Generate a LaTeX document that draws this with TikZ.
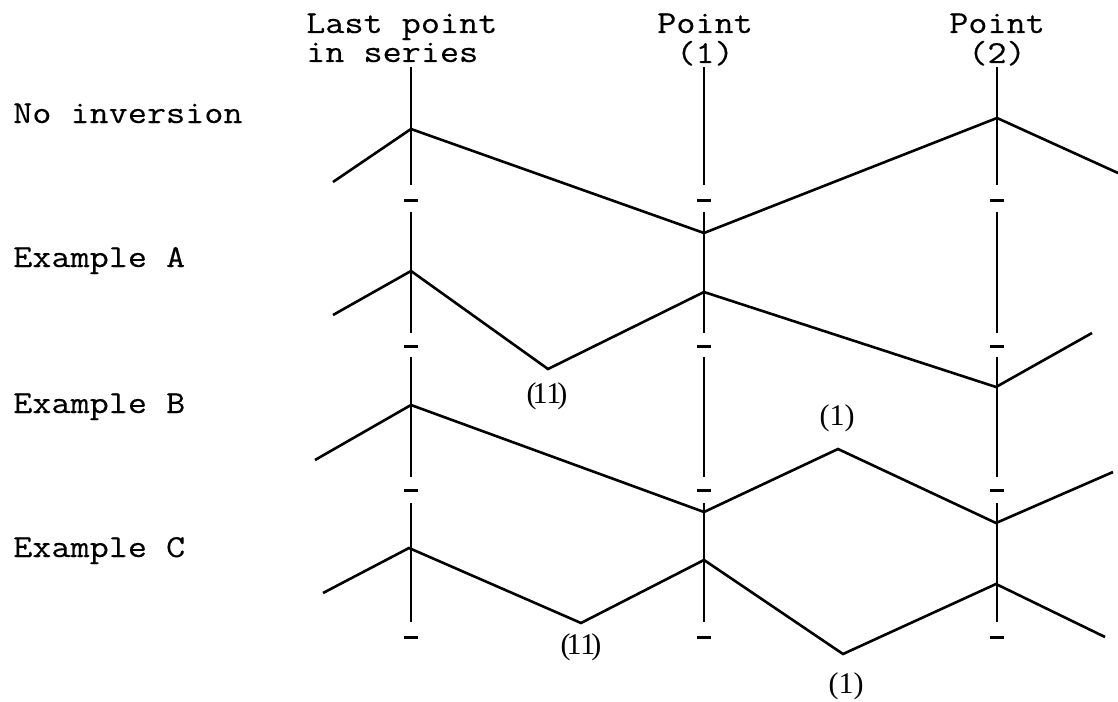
\documentclass[tikz,border=0pt]{standalone}
\usepackage{fontspec}
\setmainfont{Liberation Serif}
\newfontfamily\mono{Latin Modern Mono}[FakeStretch=1.16, FakeBold=0.3]
\begin{document}
\begin{tikzpicture}[x=1pt,y=-1pt,
  zig/.style={line width=2.6pt, line join=miter},
  vline/.style={line width=1.4pt},
  tick/.style={line width=3pt},
  lbl/.style={font=\mono\fontsize{32}{29}\selectfont, inner sep=0pt, anchor=base west},
  hdr/.style={font=\mono\fontsize{32}{29}\selectfont, inner sep=0pt, anchor=base},
  num/.style={font=\fontsize{30}{30}\selectfont, inner sep=0pt}]
\useasboundingbox (0,0) rectangle (1118,701);

% row labels
\node[lbl] (t0) at (13,123) {No inversion};
\node[lbl] (tA) at (13,267) {Example A};
\node[lbl] (tB) at (13,413) {Example B};
\node[lbl] (tC) at (13,557) {Example C};

% column headers
\node[lbl] (hL1) at (306,33) {Last point};
\node[lbl] (hL2) at (306,62) {in series};
\node[hdr] (hP1a) at (705,33) {Point};
\node[hdr] (hP1b) at (705,63) {(1)};
\node[hdr] (hP2a) at (997,33) {Point};
\node[hdr] (hP2b) at (997,63) {(2)};

% vertical guide lines with gaps and tick marks
\foreach \x/\n in {411/L,704/P,997/Q}{
  \coordinate (\n a1) at (\x,67);  \coordinate (\n a2) at (\x,185);
  \coordinate (\n b1) at (\x,212); \coordinate (\n b2) at (\x,333);
  \coordinate (\n c1) at (\x,357); \coordinate (\n c2) at (\x,477);
  \coordinate (\n d1) at (\x,503); \coordinate (\n d2) at (\x,622);
  \draw[vline] (\n a1) -- (\n a2);
  \draw[vline] (\n b1) -- (\n b2);
  \draw[vline] (\n c1) -- (\n c2);
  \draw[vline] (\n d1) -- (\n d2);
  \foreach \y/\m in {200/1,346/2,490/3,637/4}{
    \coordinate (\n t\m l) at (\x-7,\y);
    \coordinate (\n t\m r) at (\x+7,\y);
    \draw[tick] (\n t\m l) -- (\n t\m r);
  }
}

% No inversion
\coordinate (n1) at (333,182);
\coordinate (n2) at (411,129);
\coordinate (n3) at (704,233);
\coordinate (n4) at (997,118);
\coordinate (n5) at (1118,173);
\draw[zig] (n1) -- (n2) -- (n3) -- (n4) -- (n5);

% Example A
\coordinate (a1) at (333,315);
\coordinate (a2) at (411,271);
\coordinate (a3) at (548,369);
\coordinate (a4) at (704,292);
\coordinate (a5) at (996,387);
\coordinate (a6) at (1092,333);
\draw[zig] (a1) -- (a2) -- (a3) -- (a4) -- (a5) -- (a6);

% Example B
\coordinate (b1) at (315,460);
\coordinate (b2) at (411,405);
\coordinate (b3) at (704,512);
\coordinate (b4) at (838,449);
\coordinate (b5) at (996,523);
\coordinate (b6) at (1113,472);
\draw[zig] (b1) -- (b2) -- (b3) -- (b4) -- (b5) -- (b6);

% Example C
\coordinate (c1) at (323,593);
\coordinate (c2) at (409,548);
\coordinate (c3) at (581,623);
\coordinate (c4) at (704,560);
\coordinate (c5) at (843,654);
\coordinate (c6) at (996,584);
\coordinate (c7) at (1105,637);
\draw[zig] (c1) -- (c2) -- (c3) -- (c4) -- (c5) -- (c6) -- (c7);

% point labels
\node[num] (kA) at (547,396) {(\kern-4pt11\kern-4pt)};
\node[num] (kB) at (837,418) {(1)};
\node[num] (kC) at (581,647) {(\kern-4pt11\kern-4pt)};
\node[num] (kD) at (846,686) {(1)};
\end{tikzpicture}
\end{document}
